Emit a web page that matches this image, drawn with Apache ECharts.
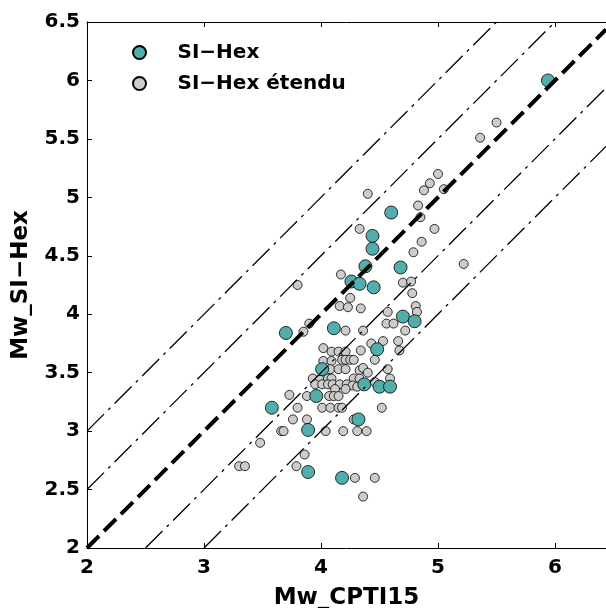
<!DOCTYPE html>
<html><head><meta charset="utf-8">
<script src="https://cdn.jsdelivr.net/npm/echarts@6/dist/echarts.min.js"></script>
<style>html,body{margin:0;padding:0;background:#fff}#c{width:606px;height:608px}</style>
</head><body><div id="c"></div>
<script>
// ---- data ----
const xTicks = [2, 3, 4, 5, 6];
const yTicks = [2, 2.5, 3, 3.5, 4, 4.5, 5, 5.5, 6, 6.5];
const xRange = [2, 6.436];
const yRange = [2, 6.5];
const refOffsets = [1, 0.5, 0, -0.5, -1];   // y = x + offset

const siHex = [
  [5.94,6.00],[4.60,4.87],[4.44,4.67],[4.44,4.56],[4.38,4.41],[4.26,4.28],[4.33,4.26],
  [4.45,4.23],[4.68,4.40],[4.11,3.88],[3.70,3.84],[4.48,3.70],[4.70,3.98],[4.80,3.94],
  [4.01,3.53],[4.37,3.40],[4.50,3.38],[4.59,3.38],[3.96,3.30],[3.58,3.20],[4.32,3.10],
  [3.89,3.01],[3.89,2.65],[4.18,2.60]
];

const siHexEtendu = [
  [5.50,5.64],[5.36,5.51],[5.00,5.20],[4.93,5.12],[5.05,5.07],[4.88,5.06],[4.83,4.93],
  [4.85,4.83],[4.97,4.73],[4.86,4.62],[4.79,4.53],[5.22,4.43],[4.40,5.03],[4.33,4.73],
  [4.17,4.34],[3.80,4.25],[4.70,4.27],[4.77,4.28],[4.78,4.18],[4.25,4.14],[4.16,4.07],
  [4.23,4.06],[4.34,4.05],[4.81,4.07],[4.82,4.02],[4.57,4.02],[4.56,3.92],[4.62,3.92],
  [3.90,3.92],[3.85,3.85],[4.21,3.86],[4.36,3.86],[4.72,3.86],[4.43,3.75],[4.53,3.77],
  [4.66,3.77],
  [4.02,3.71],[4.09,3.68],[4.15,3.68],[4.21,3.68],[4.34,3.69],[4.67,3.69],
  [4.02,3.60],[4.09,3.60],[4.18,3.61],[4.21,3.61],[4.25,3.61],[4.28,3.61],[4.46,3.61],
  [4.08,3.53],[4.15,3.53],[4.21,3.53],[4.33,3.52],[4.36,3.54],[4.40,3.50],[4.57,3.53],
  [3.93,3.45],[3.99,3.44],[4.06,3.45],[4.09,3.45],[4.28,3.45],[4.33,3.45],[4.59,3.45],[4.46,3.42],
  [3.95,3.40],[4.01,3.40],[4.06,3.40],[4.10,3.40],[4.16,3.40],[4.22,3.40],[4.27,3.39],[4.31,3.38],
  [4.12,3.36],[4.21,3.36],
  [3.73,3.31],[3.88,3.30],[4.07,3.30],[4.11,3.30],[4.15,3.30],
  [3.80,3.20],[4.01,3.20],[4.08,3.20],[4.15,3.20],[4.18,3.20],[4.52,3.20],
  [3.76,3.10],[3.88,3.10],[4.28,3.10],
  [3.66,3.00],[3.68,3.00],[4.04,3.00],[4.19,3.00],[4.31,3.00],[4.39,3.00],
  [3.48,2.90],[3.86,2.80],[3.30,2.70],[3.35,2.70],[3.79,2.70],[4.29,2.60],[4.46,2.60],[4.36,2.44]
];

// ---- chart ----
const FONT = 'DejaVu Sans';
const chart = echarts.init(document.getElementById('c'), null, {renderer: 'canvas'});

function refLine(o) {
  const x0 = Math.max(xRange[0], yRange[0] - o);
  const x1 = Math.min(xRange[1], yRange[1] - o);
  return [[x0, x0 + o], [x1, x1 + o]];
}

const lineSeries = refOffsets.map(o => ({
  type: 'line',
  data: refLine(o),
  symbol: 'none',
  silent: true,
  z: 5,
  clip: true,
  lineStyle: o === 0
    ? {color: '#000', width: 4, type: [17, 7]}
    : {color: '#000', width: 1.3, type: [24, 6, 3, 6]}
}));

const baseX = {
  type: 'value', min: xRange[0], max: xRange[1],
  splitLine: {show: false},
  axisLine: {show: true, onZero: false, lineStyle: {color: '#000', width: 1}},
  axisTick: {show: true, inside: true, length: 5, customValues: xTicks, lineStyle: {color: '#000'}},
};

chart.setOption({
  animation: false,
  backgroundColor: '#fff',
  grid: {left: 87, top: 22, right: 0, bottom: 60, outerBoundsMode: 'none', containLabel: false},
  legend: {
    left: 127, top: 37, orient: 'vertical',
    itemWidth: 66, itemHeight: 13, itemGap: 10,
    textStyle: {fontFamily: FONT, fontWeight: 'bold', fontSize: 20, color: '#000', lineHeight: 21},
    data: ['SI−Hex', 'SI−Hex étendu']
  },
  xAxis: [
    Object.assign({}, baseX, {
      position: 'bottom',
      name: 'Mw_CPTI15', nameLocation: 'middle', nameGap: 50, nameMoveOverlap: false,
      nameTextStyle: {fontFamily: FONT, fontWeight: 'bold', fontSize: 23, color: '#000', verticalAlign: 'middle'},
      axisLabel: {show: true, customValues: xTicks, margin: 10, fontFamily: FONT, fontWeight: 'bold', fontSize: 20, color: '#000'}
    }),
    Object.assign({}, baseX, {position: 'top', axisLabel: {show: false}})
  ],
  yAxis: {
    type: 'value', min: yRange[0], max: yRange[1], interval: 0.5,
    splitLine: {show: false},
    axisLine: {show: true, onZero: false, lineStyle: {color: '#000', width: 1}},
    axisTick: {show: true, inside: true, length: 5, customValues: yTicks, lineStyle: {color: '#000'}},
    axisLabel: {show: true, customValues: yTicks, margin: 7, fontFamily: FONT, fontWeight: 'bold', fontSize: 20, color: '#000'},
    name: 'Mw_SI−Hex', nameLocation: 'middle', nameGap: 66, nameMoveOverlap: false,
    nameTextStyle: {fontFamily: FONT, fontWeight: 'bold', fontSize: 23, color: '#000', verticalAlign: 'middle'}
  },
  series: [
    {
      name: 'SI−Hex étendu', type: 'scatter', data: siHexEtendu, symbol: 'circle', symbolSize: 9, z: 2,
      itemStyle: {color: '#cccccc', borderColor: '#000', borderWidth: 0.8, opacity: 1}
    },
    {
      name: 'SI−Hex', type: 'scatter', data: siHex, symbol: 'circle', symbolSize: 13, z: 3,
      itemStyle: {color: '#52aeab', borderColor: '#000', borderWidth: 0.8, opacity: 1}
    }
  ].concat(lineSeries)
});
</script>
</body></html>
